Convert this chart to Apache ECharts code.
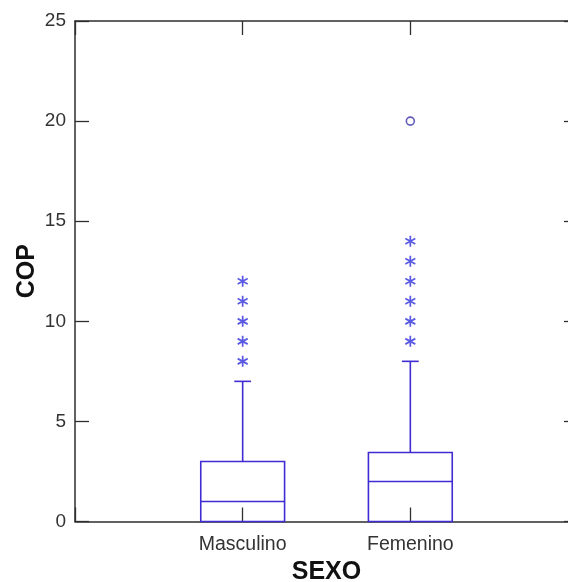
<!DOCTYPE html>
<html>
<head>
<meta charset="utf-8">
<script src="https://cdn.jsdelivr.net/npm/echarts@6/dist/echarts.min.js"></script>
<style>html,body{margin:0;padding:0;background:#fff;}#c{width:568px;height:582px;}</style>
</head>
<body>
<div id="c"></div>
<script>
var categories = ['Masculino', 'Femenino'];
var yTicks = [0, 5, 10, 15, 20, 25];
// [low whisker, Q1, median, Q3, high whisker]
var mascBox = [0, 0, 1, 3, 7];
var femBox = [0, 0, 2, 3.45, 8];
var mascOutliers = [8, 9, 10, 11, 12];
var femOutliers = [9, 10, 11, 12, 13, 14];
var femFarOutliers = [20];

var boxes = [mascBox, femBox];
var boxData = boxes.map(function (b, i) { return [i + 1].concat(b); });
function pts(idx, arr) { return arr.map(function (v) { return [idx, v]; }); }

var chart = echarts.init(document.getElementById('c'), null, {renderer: 'canvas'});
var boxColor = '#3f2cd2';
var axisColor = '#2e2e2e';
var labelFont = '"Liberation Sans", Arial, sans-serif';
function lineCfg() { return {show: true, onZero: false, lineStyle: {color: axisColor, width: 1.5}}; }
function tickCfg() { return {show: true, inside: true, length: 14, lineStyle: {color: axisColor, width: 1.3}}; }

chart.setOption({
  animation: false,
  backgroundColor: '#ffffff',
  grid: {left: 75, top: 21, width: 503, height: 500.5, containLabel: false, outerBoundsMode: 'none'},
  xAxis: [{
    type: 'value', min: 0, max: 3, interval: 1, position: 'bottom',
    axisLine: lineCfg(), axisTick: tickCfg(),
    splitLine: {show: false},
    axisLabel: {
      margin: 13, color: '#333', fontSize: 19.5, fontFamily: labelFont,
      formatter: function (v) { return (v >= 1 && v <= categories.length) ? categories[v - 1] : ''; }
    },
    name: 'SEXO', nameLocation: 'middle', nameGap: 38, nameMoveOverlap: false,
    nameTextStyle: {color: '#111', fontSize: 25, fontWeight: 'bold', fontFamily: labelFont}
  }, {
    type: 'value', min: 0, max: 3, interval: 1, position: 'top',
    axisLine: lineCfg(), axisTick: tickCfg(),
    splitLine: {show: false}, axisLabel: {show: false}
  }],
  yAxis: [{
    type: 'value', min: yTicks[0], max: yTicks[yTicks.length - 1], interval: 5, position: 'left',
    axisLine: lineCfg(), axisTick: tickCfg(),
    splitLine: {show: false},
    axisLabel: {margin: 9, color: '#333', fontSize: 19, fontFamily: labelFont},
    name: 'COP', nameLocation: 'middle', nameGap: 35, nameRotate: 90, nameMoveOverlap: false,
    nameTextStyle: {color: '#111', fontSize: 25, fontWeight: 'bold', fontFamily: labelFont}
  }, {
    type: 'value', min: yTicks[0], max: yTicks[yTicks.length - 1], interval: 5, position: 'right',
    axisLine: lineCfg(), axisTick: tickCfg(),
    splitLine: {show: false}, axisLabel: {show: false}
  }],
  series: [{
    type: 'custom',
    xAxisIndex: 0, yAxisIndex: 0,
    data: boxData,
    z: 3,
    renderItem: function (params, api) {
      var x = api.value(0);
      var low = api.value(1), q1 = api.value(2), med = api.value(3), q3 = api.value(4), high = api.value(5);
      var halfW = api.size([0.25, 0])[0];
      var capW = api.size([0.05, 0])[0];
      var pLow = api.coord([x, low]), pQ1 = api.coord([x, q1]), pMed = api.coord([x, med]),
          pQ3 = api.coord([x, q3]), pHigh = api.coord([x, high]);
      var cx = pQ1[0];
      var st = {stroke: boxColor, lineWidth: 1.6, fill: null};
      return {
        type: 'group',
        children: [
          {type: 'rect', shape: {x: cx - halfW, y: pQ3[1], width: halfW * 2, height: pQ1[1] - pQ3[1]}, style: st},
          {type: 'line', shape: {x1: cx - halfW, y1: pMed[1], x2: cx + halfW, y2: pMed[1]}, style: st},
          {type: 'line', shape: {x1: cx, y1: pQ3[1], x2: cx, y2: pHigh[1]}, style: st},
          {type: 'line', shape: {x1: cx - capW, y1: pHigh[1], x2: cx + capW, y2: pHigh[1]}, style: st},
          {type: 'line', shape: {x1: cx, y1: pQ1[1], x2: cx, y2: pLow[1]}, style: st}
        ]
      };
    }
  }, {
    type: 'scatter',
    data: pts(1, mascOutliers).concat(pts(2, femOutliers)),
    symbol: 'path://M5,0L5,10M0.67,2.5L9.33,7.5M0.67,7.5L9.33,2.5',
    symbolSize: [10, 11],
    itemStyle: {color: 'rgba(0,0,0,0)', borderColor: '#3030dc', borderWidth: 1.8},
    z: 4
  }, {
    type: 'scatter',
    data: pts(2, femFarOutliers),
    symbol: 'circle',
    symbolSize: 8,
    itemStyle: {color: 'rgba(0,0,0,0)', borderColor: '#3a32a8', borderWidth: 1.6},
    z: 4
  }]
});
</script>
</body>
</html>
